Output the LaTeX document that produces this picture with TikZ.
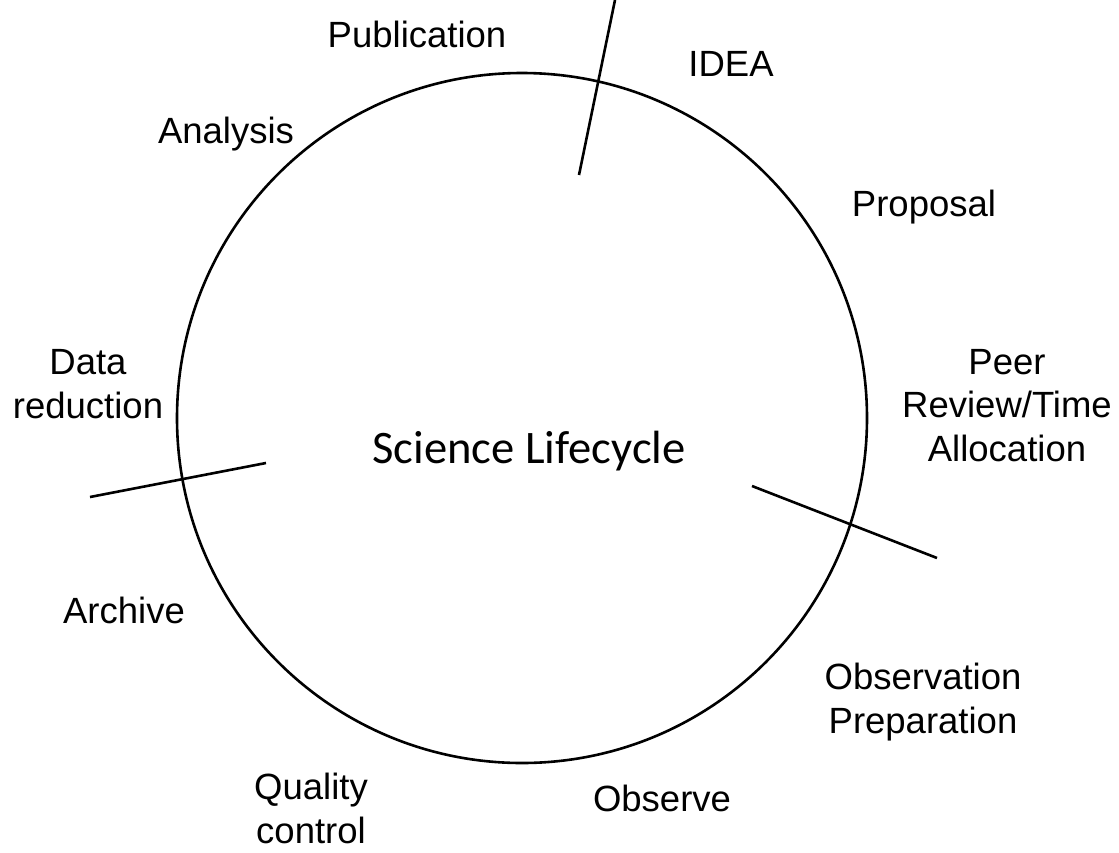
\documentclass[tikz,border=0pt]{standalone}
\usepackage{fontspec}
\setmainfont{Liberation Sans}
\newfontfamily\calibrifont{Carlito}
\begin{document}
\begin{tikzpicture}[x=1pt,y=-1pt,
  lbl/.style={inner sep=0pt, anchor=base, align=center, font=\fontsize{36.5}{43.5}\selectfont},
  ttl/.style={inner sep=0pt, anchor=base, font=\calibrifont\fontsize{46.6}{56}\selectfont},
  divider/.style={line width=2.6pt}]
\useasboundingbox (0,0) rectangle (1119,852);
\node[draw, circle, minimum size=690pt, inner sep=0pt, line width=2.6pt] (cyc) at (522,418) {};
\node[ttl] (title) at (529,463) {Science Lifecycle};
% dividers
\coordinate (t1) at (615,0);   \coordinate (t2) at (579,175);
\coordinate (l1) at (90,497);  \coordinate (l2) at (266,463);
\coordinate (r1) at (752,486); \coordinate (r2) at (937,558);
\draw[divider] (t1) -- (t2);
\draw[divider] (l1) -- (l2);
\draw[divider] (r1) -- (r2);
% labels (base anchor = baseline of the last line)
\node[lbl] (pub) at (417,47) {Publication};
\node[lbl] (idea) at (731,76) {IDEA};
\node[lbl] (ana) at (226,143) {Analysis};
\node[lbl] (prop) at (924,216) {Proposal};
\node[lbl] (data) at (88,418) {Data\\reduction};
\node[lbl] (peer) at (1007,461) {Peer\\Review/Time\\Allocation};
\node[lbl] (arch) at (124,623) {Archive};
\node[lbl] (obsp) at (923,733) {Observation\\Preparation};
\node[lbl] (qc) at (311,843) {Quality\\control};
\node[lbl] (obs) at (662,811) {Observe};
\end{tikzpicture}
\end{document}
